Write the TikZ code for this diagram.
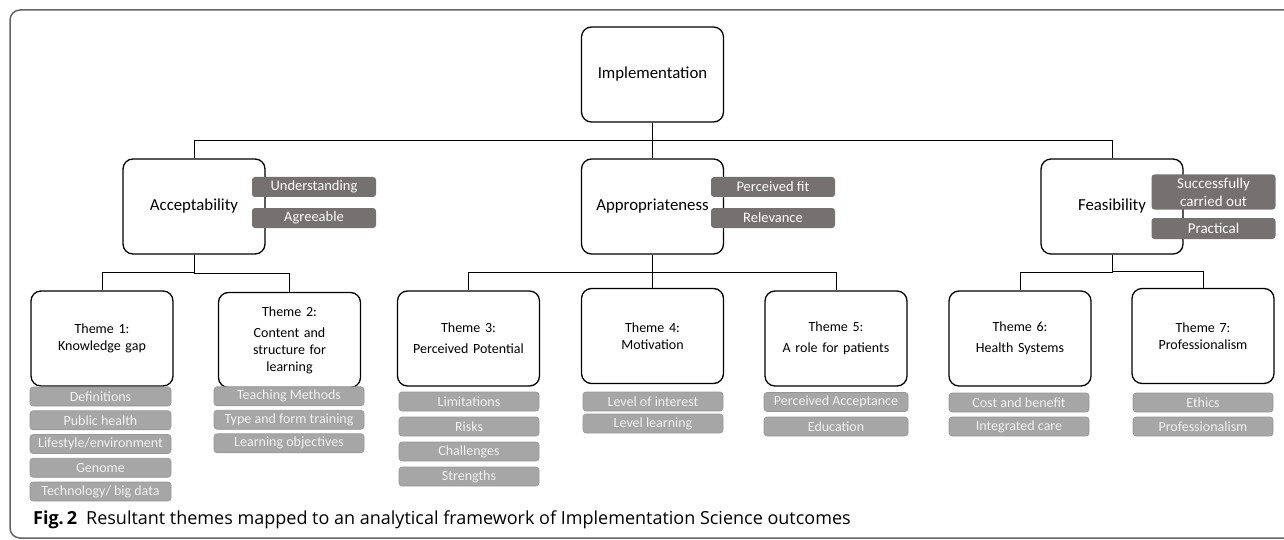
\documentclass[tikz,border=0pt]{standalone}
\usepackage{fontspec}
\setmainfont{Carlito}
\newfontfamily\captionfont{Open Sans}
\usepackage{tikz}
\usetikzlibrary{calc}

\definecolor{tagdark}{RGB}{118,113,113}
\definecolor{taglight}{RGB}{166,166,166}
\definecolor{tagedge}{RGB}{150,150,150}
\definecolor{tagtext}{RGB}{242,242,242}
\definecolor{framegray}{RGB}{100,100,100}

\begin{document}
\begin{tikzpicture}[x=1pt,y=-1pt,
    outcome/.style={
        draw=black,
        line width=1.3pt,
        rounded corners=10pt,
        fill=white,
        minimum width=142pt,
        minimum height=95pt,
        inner sep=0pt,
        font=\fontsize{16.8}{19}\selectfont
    },
    theme/.style={
        draw=black,
        line width=1.3pt,
        rounded corners=10pt,
        fill=white,
        minimum width=142pt,
        minimum height=95pt,
        inner sep=0pt,
        align=center,
        text width=130pt,
        font=\fontsize{14}{17}\selectfont
    },
    maintag/.style={
        fill=tagdark,
        rounded corners=3pt,
        text=white,
        minimum width=124pt,
        minimum height=20pt,
        inner sep=0pt,
        align=center,
        font=\fontsize{14.5}{16}\selectfont
    },
    subtag/.style={
        fill=taglight,
        draw=tagedge,
        line width=0.6pt,
        rounded corners=3pt,
        text=tagtext,
        minimum width=141pt,
        minimum height=19pt,
        inner sep=0pt,
        font=\fontsize{14}{16}\selectfont
    },
    link/.style={
        black,
        line width=1pt
    }
]
\useasboundingbox (0,0) rectangle (1284,540);

% frame
\draw[framegray, line width=1.5pt, rounded corners=10pt]
    (1300,10) -- (10,10) -- (10,538) -- (1300,538);

% outcomes
\node[outcome] (impl) at (652.5,74.5) {Implementation};
\node[outcome] (acc) at (194,206.5) {Acceptability};
\node[outcome] (app) at (652.5,206.5) {Appropriateness};
\node[outcome] (fea) at (1112,206.5) {Feasibility};

% themes
\node[theme] (th1) at (102,338.5) {Theme 1:\\Knowledge gap};
\node[theme] (th2) at (289.5,340) {Theme 2:\\[4pt]Content and\\structure for\\learning};
\node[theme] (th3) at (468.5,338.5) {Theme 3:\\[4pt]Perceived Potential};
\node[theme] (th4) at (652.5,336) {Theme 4:\\Motivation};
\node[theme] (th5) at (836,338.5) {Theme 5:\\[4pt]A role for patients};
\node[theme] (th6) at (1020,338.5) {Theme 6:\\[4pt]Health Systems};
\node[theme] (th7) at (1203,336) {Theme 7:\\Professionalism};

% connectors
\foreach \a/\b in {impl/acc,impl/app,impl/fea,
                   acc/th1,acc/th2,
                   app/th3,app/th4,app/th5,
                   fea/th6,fea/th7}{
    \draw[link] (\a.south) |- ($(\a.south)!0.5!(\b.north)$) -| (\b.north);
}

% outcome tags
\node[maintag] (acc1) at (314,187) {Understanding};
\node[maintag] (acc2) at (314,218) {Agreeable};
\node[maintag] (app1) at (773,187) {Perceived fit};
\node[maintag] (app2) at (773,218) {Relevance};
\node[maintag, minimum height=35pt, font=\fontsize{15}{18}\selectfont]
    (fea1) at (1213.5,192) {Successfully\\carried out};
\node[maintag, minimum height=21pt, font=\fontsize{15}{16}\selectfont]
    (fea2) at (1213.5,228.5) {Practical};

% theme tags
\foreach \txt [count=\i] in {Definitions,Public health,Lifestyle/environment,Genome,Technology/ big data}{
    \node[subtag] (th1tag\i) at (100.5,{372.75+23.75*\i}) {\txt};
}
\foreach \txt [count=\i] in {Teaching Methods,Type and form training,Learning objectives}{
    \node[subtag, minimum width=150pt] (th2tag\i) at (289,{372.75+23.5*\i}) {\txt};
}
\foreach \txt [count=\i] in {Limitations,Risks,Challenges,Strengths}{
    \node[subtag, minimum width=140pt] (th3tag\i) at (469,{376.5+25*\i}) {\txt};
}
\foreach \txt [count=\i] in {Level of interest,Level learning}{
    \node[subtag, minimum width=140pt] (th4tag\i) at (653,{379.5+22*\i}) {\txt};
}
\foreach \txt [count=\i] in {Perceived Acceptance,Education}{
    \node[subtag, minimum width=144pt] (th5tag\i) at (836,{377.5+24.5*\i}) {\txt};
}
\foreach \txt [count=\i] in {Cost and benefit,Integrated care}{
    \node[subtag, minimum width=140pt] (th6tag\i) at (1019,{378.5+24*\i}) {\txt};
}
\foreach \txt [count=\i] in {Ethics,Professionalism}{
    \node[subtag, minimum width=140pt] (th7tag\i) at (1203,{378.5+24*\i}) {\txt};
}

% caption
\node[anchor=base west, inner sep=0pt, font=\captionfont\fontsize{18}{21}\selectfont]
    (caption) at (33,524)
    {\textbf{Fig.\,2}\hspace{9pt}Resultant themes mapped to an analytical framework of Implementation Science outcomes};
\end{tikzpicture}
\end{document}
